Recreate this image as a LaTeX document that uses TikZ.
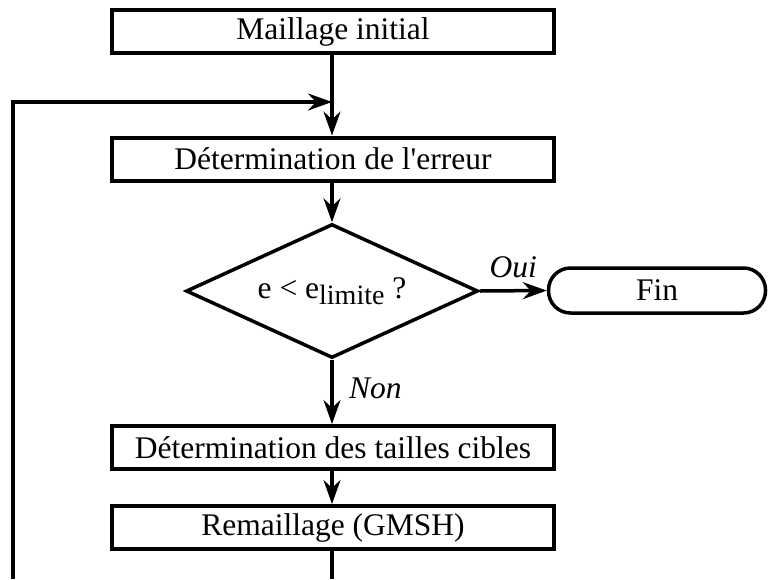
\documentclass[tikz,border=0pt]{standalone}
\usepackage{fontspec}
\setmainfont{Liberation Serif}
\usetikzlibrary{shapes.geometric,arrows.meta}
\begin{document}
\begin{tikzpicture}[x=1pt,y=-1pt,
  every node/.style={font=\fontsize{31.5}{34}\selectfont},
  stepbox/.style={draw, line width=4pt, rectangle, minimum width=442pt, minimum height=43pt, inner sep=0pt},
  testbox/.style={draw, line width=3.5pt, diamond, aspect=2.18, minimum width=292pt, minimum height=134pt, inner sep=0pt},
  endbox/.style={draw, line width=3.5pt, rectangle, rounded corners=22pt, minimum width=217pt, minimum height=45pt, inner sep=0pt},
  conn/.style={line width=3.5pt, -{Stealth[length=24pt,width=17pt,inset=8pt]}},
  plain/.style={line width=3.5pt},
  lbl/.style={font=\fontsize{31.5}{34}\selectfont\itshape}]
\useasboundingbox (0,0) rectangle (770,579);
\node[stepbox] (init) at (333,31.5) {Maillage initial};
\node[stepbox] (err) at (333,159) {Détermination de l\textquotesingle erreur};
\node[testbox] (test) at (332,291) {e < e\raisebox{-0.45ex}{\fontsize{28}{30}\selectfont limite} ?};
\node[endbox] (fin) at (657,290.5) {Fin};
\node[stepbox] (tailles) at (333,447.5) {Détermination des tailles cibles};
\node[stepbox] (remesh) at (333,527.5) {Remaillage (GMSH)};
\coordinate (join) at (332,102);
\coordinate (out) at (332,579);
\coordinate (loopb) at (13,579);
\coordinate (loopt) at (13,102);
\draw[conn] (init.south -| join) -- (err.north -| join);
\draw[conn] (err.south -| join) -- (test.north);
\draw[conn] (test.east) -- node[lbl, above, yshift=8pt] {Oui} (fin.west);
\draw[conn] (test.south) -- node[lbl, right, xshift=12pt, yshift=4pt] {Non} (tailles.north -| test.south);
\draw[conn] (tailles.south -| join) -- (remesh.north -| join);
\draw[plain] (remesh.south -| join) -- (out);
\draw[conn] (loopb) -- (loopt) -- (join);
\end{tikzpicture}
\end{document}
